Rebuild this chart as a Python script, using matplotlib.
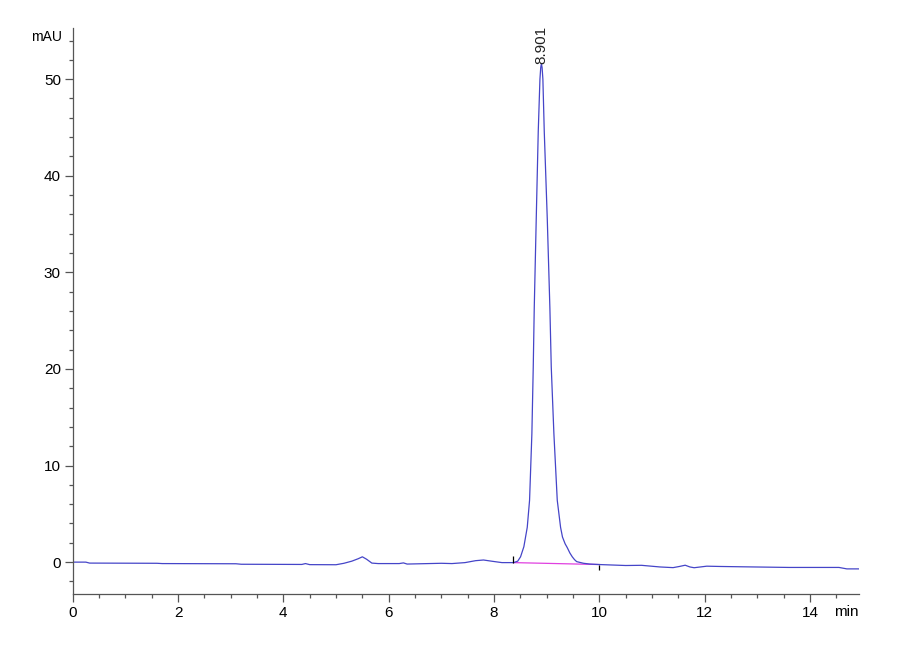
import numpy as np
import matplotlib
matplotlib.use("Agg")
import matplotlib.pyplot as plt

plt.rcParams['font.family'] = ['Liberation Sans Narrow', 'Liberation Sans', 'DejaVu Sans']

# chromatogram trace (min, mAU)
time = [0.0, 0.25, 0.32, 1.6, 1.7, 3.1, 3.2, 4.35, 4.42, 4.5, 5.0, 5.15, 5.3,
        5.42, 5.5, 5.58, 5.68, 5.8, 6.2, 6.28, 6.35, 7.0, 7.2, 7.45, 7.65,
        7.8, 7.95, 8.15, 8.37, 8.45, 8.504, 8.567, 8.631, 8.675, 8.719,
        8.745, 8.764, 8.802, 8.840, 8.872, 8.887, 8.90, 8.913, 8.928, 8.954,
        9.011, 9.061, 9.087, 9.137, 9.201, 9.264, 9.30, 9.35, 9.391, 9.44,
        9.486, 9.53, 9.57, 9.7, 9.82, 10.0, 10.5, 10.8, 11.15, 11.4, 11.52,
        11.63, 11.72, 11.8, 12.04, 12.3, 12.67, 13.6, 14.55, 14.7, 14.93]
signal = [0.0, 0.0, -0.1, -0.12, -0.15, -0.17, -0.22, -0.24, -0.15, -0.26,
          -0.27, -0.12, 0.1, 0.35, 0.55, 0.3, -0.1, -0.15, -0.15, -0.08, -0.2,
          -0.12, -0.15, -0.05, 0.15, 0.22, 0.1, -0.05, -0.05, 0.1, 0.55, 1.6,
          3.6, 6.4, 13.3, 20.2, 26.3, 35.6, 44.6, 50.0, 51.2, 51.6, 51.2, 50.0,
          44.6, 35.6, 26.3, 20.2, 13.3, 6.4, 3.6, 2.6, 1.9, 1.5, 0.95, 0.55,
          0.25, 0.05, -0.12, -0.2, -0.25, -0.35, -0.33, -0.5, -0.57, -0.45,
          -0.32, -0.5, -0.58, -0.42, -0.45, -0.48, -0.55, -0.55, -0.7, -0.7]

# integration baseline and events
base_t = [8.37, 10.0]
base_v = [-0.05, -0.25]
peak_rt = 8.901
peak_h = 51.6

fig = plt.figure(figsize=(9, 6.6), dpi=100)
ax = fig.add_axes([0.0808, 0.1, 0.8736, 0.8576])

ax.plot(base_t, base_v, color='#e040e0', lw=0.9)
ax.plot(time, signal, color='#4545c8', lw=0.9)
ax.vlines([base_t[0]], base_v[0], base_v[0] + 0.65, color='black', lw=0.9)
ax.vlines([base_t[1]], base_v[1] - 0.6, base_v[1], color='black', lw=0.9)

ax.text(peak_rt, peak_h, '%.3f' % peak_rt, rotation=90, ha='center', va='bottom',
        fontsize=11, color='#222222')

ax.set_xlim(0, 14.93)
ax.set_ylim(-3.3, 55.3)
ax.set_xticks(np.arange(0, 15, 2))
ax.set_xticks(np.arange(0, 15, 0.5), minor=True)
ax.set_yticks(np.arange(0, 51, 10))
ax.set_yticks(np.arange(-2, 55, 2), minor=True)

for s in ['top', 'right']:
    ax.spines[s].set_visible(False)
for s in ['left', 'bottom']:
    ax.spines[s].set_color('#555555')
    ax.spines[s].set_linewidth(0.9)

ax.tick_params(which='major', length=5.5, width=0.9, color='#555555',
               labelsize=11, pad=3)
ax.tick_params(which='minor', length=3, width=0.9, color='#555555')

ax.text(-0.2, 54.4, 'mAU', ha='right', va='center', fontsize=10, clip_on=False)
ax.text(14.93, -0.032, 'min', ha='right', va='center', fontsize=11,
        transform=ax.get_xaxis_transform(), clip_on=False)

fig.savefig('out.png', dpi=100)
